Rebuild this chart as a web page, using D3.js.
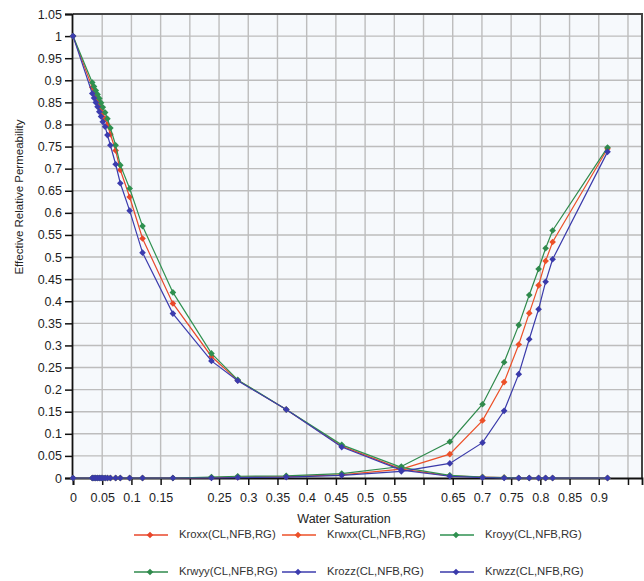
<!DOCTYPE html>
<html>
<head>
<meta charset="utf-8">
<script src="https://cdn.jsdelivr.net/npm/d3@7/dist/d3.min.js"></script>
<style>
  html, body { margin: 0; padding: 0; background: #ffffff; }
  svg { display: block; font-family: "Liberation Sans", Arial, sans-serif; }
</style>
</head>
<body>
<svg id="chart" width="644" height="581"></svg>
<script>
// ---- data ----
const waterSaturation = [0, 0.033, 0.036, 0.039, 0.042, 0.045, 0.048, 0.051, 0.055, 0.059,
  0.064, 0.073, 0.081, 0.097, 0.119, 0.171, 0.237, 0.282, 0.365, 0.460,
  0.562, 0.645, 0.701, 0.738, 0.763, 0.781, 0.797, 0.809, 0.821, 0.915];

const kroxx = [1, 0.884, 0.874, 0.864, 0.855, 0.846, 0.836, 0.826, 0.813, 0.799,
  0.778, 0.741, 0.697, 0.636, 0.542, 0.395, 0.275, 0.221, 0.155, 0.072,
  0.020, 0.005, 0.002, 0.001, 0, 0, 0, 0, 0, 0];
const krwxx = [0, 0, 0, 0, 0, 0, 0, 0, 0, 0,
  0, 0, 0, 0, 0, 0, 0.001, 0.002, 0.003, 0.007,
  0.020, 0.054, 0.130, 0.217, 0.302, 0.373, 0.436, 0.491, 0.534, 0.745];
const kroyy = [1, 0.895, 0.886, 0.877, 0.868, 0.859, 0.849, 0.839, 0.827, 0.813,
  0.792, 0.753, 0.708, 0.655, 0.570, 0.420, 0.282, 0.222, 0.155, 0.075,
  0.024, 0.006, 0.002, 0.001, 0, 0, 0, 0, 0, 0];
const krwyy = [0, 0, 0, 0, 0, 0, 0, 0, 0, 0,
  0, 0, 0, 0, 0, 0, 0.002, 0.004, 0.005, 0.010,
  0.026, 0.082, 0.167, 0.262, 0.346, 0.414, 0.473, 0.520, 0.560, 0.748];
const krozz = [1, 0.870, 0.860, 0.850, 0.840, 0.829, 0.818, 0.806, 0.795, 0.776,
  0.753, 0.710, 0.667, 0.605, 0.510, 0.372, 0.265, 0.220, 0.155, 0.070,
  0.018, 0.004, 0.001, 0, 0, 0, 0, 0, 0, 0];
const krwzz = [0, 0, 0, 0, 0, 0, 0, 0, 0, 0,
  0, 0, 0, 0, 0, 0, 0, 0.001, 0.002, 0.006,
  0.015, 0.033, 0.080, 0.152, 0.235, 0.314, 0.382, 0.444, 0.495, 0.738];

const seriesNames = ["Kroxx(CL,NFB,RG)", "Krwxx(CL,NFB,RG)", "Kroyy(CL,NFB,RG)",
  "Krwyy(CL,NFB,RG)", "Krozz(CL,NFB,RG)", "Krwzz(CL,NFB,RG)"];
const seriesValues = [kroxx, krwxx, kroyy, krwyy, krozz, krwzz];
const seriesColors = ["#e8472b", "#ec5028", "#2f9150", "#2f8a4c", "#3c3cae", "#3a3aaa"];

const xTicks = [0, 0.05, 0.1, 0.15, 0.2, 0.25, 0.3, 0.35, 0.4, 0.45, 0.5,
  0.55, 0.6, 0.65, 0.7, 0.75, 0.8, 0.85, 0.9, 0.95];
const xTickLabels = [0, 0.05, 0.1, 0.15, 0.25, 0.3, 0.35, 0.4, 0.45, 0.5,
  0.55, 0.65, 0.7, 0.75, 0.8, 0.85, 0.9];
const yTicks = [0, 0.05, 0.1, 0.15, 0.2, 0.25, 0.3, 0.35, 0.4, 0.45, 0.5,
  0.55, 0.6, 0.65, 0.7, 0.75, 0.8, 0.85, 0.9, 0.95, 1, 1.05];

const xTitle = "Water Saturation";
const yTitle = "Effective Relative Permeability";

// ---- layout ----
const svg = d3.select("#chart");
const plot = { left: 73, right: 642, top: 14, bottom: 478 };
const x = d3.scaleLinear().domain([0, 0.974]).range([plot.left, plot.right]);
const y = d3.scaleLinear().domain([0, 1.05]).range([plot.bottom, plot.top]);
const fmt = d => String(+d.toFixed(2));

svg.append("rect")
  .attr("x", plot.left).attr("y", plot.top)
  .attr("width", plot.right - plot.left).attr("height", plot.bottom - plot.top)
  .attr("fill", "#f6f9fc");

// grid
const grid = svg.append("g").attr("stroke", "#bdbdbd").attr("stroke-width", 1.4);
grid.selectAll("line.v").data(xTicks.filter(d => d > 0)).join("line")
  .attr("x1", d => x(d)).attr("x2", d => x(d))
  .attr("y1", plot.top).attr("y2", plot.bottom);
grid.selectAll("line.h").data(yTicks.filter(d => d > 0 && d < 1.05)).join("line")
  .attr("x1", plot.left).attr("x2", plot.right)
  .attr("y1", d => y(d)).attr("y2", d => y(d));

// frame (top/right)
svg.append("path")
  .attr("d", `M${plot.left},${plot.top}H${plot.right}V${plot.bottom}`)
  .attr("fill", "none").attr("stroke", "#444").attr("stroke-width", 2);

// axes
const xAxis = svg.append("g").attr("transform", `translate(0,${plot.bottom})`)
  .call(d3.axisBottom(x).tickValues(xTicks).tickSize(7).tickPadding(8)
    .tickFormat(d => xTickLabels.some(v => Math.abs(v - d) < 1e-9) ? fmt(d) : ""));
const yAxis = svg.append("g").attr("transform", `translate(${plot.left - 1},0)`)
  .call(d3.axisLeft(y).tickValues(yTicks).tickSize(7).tickPadding(3).tickFormat(fmt));
[xAxis, yAxis].forEach(g => {
  g.select(".domain").attr("stroke", "#111").attr("stroke-width", 1.8);
  g.selectAll(".tick line").attr("stroke", "#111").attr("stroke-width", 1.5);
  g.selectAll(".tick text").attr("fill", "#1e1e1e").style("font-size", "12.5px")
    .style("font-family", "'Liberation Sans', Arial, sans-serif");
});

// titles
svg.append("text").attr("x", 344).attr("y", 520)
  .attr("text-anchor", "middle").attr("dominant-baseline", "middle")
  .attr("fill", "#222").style("font-size", "12.5px").text(xTitle);
svg.append("text").attr("transform", "translate(20,197) rotate(-90)")
  .attr("text-anchor", "middle").attr("dominant-baseline", "middle")
  .attr("fill", "#222").style("font-size", "11.5px").text(yTitle);

// series
const line = d3.line().x(d => x(d[0])).y(d => y(d[1]));
const marker = d3.symbol().type(d3.symbolDiamond2).size(28);
seriesValues.forEach((vals, i) => {
  const pts = waterSaturation.map((s, j) => [s, vals[j]]);
  const g = svg.append("g");
  g.append("path").datum(pts).attr("d", line)
    .attr("fill", "none").attr("stroke", seriesColors[i]).attr("stroke-width", 1.2);
  g.selectAll("path.m").data(pts).join("path").attr("class", "m")
    .attr("transform", d => `translate(${x(d[0])},${y(d[1])})`)
    .attr("d", marker).attr("fill", seriesColors[i]);
});

// legend
const legendCols = [134, 282, 440];
const legendRows = [535, 572];
seriesNames.forEach((name, i) => {
  const lx = legendCols[i % 3], ly = legendRows[Math.floor(i / 3)];
  const g = svg.append("g").attr("transform", `translate(${lx},${ly})`);
  g.append("line").attr("x1", 0).attr("x2", 34).attr("y1", 0).attr("y2", 0)
    .attr("stroke", seriesColors[i]).attr("stroke-width", 1.4);
  g.append("path").attr("transform", "translate(16,0)").attr("d", marker)
    .attr("fill", seriesColors[i]);
  g.append("text").attr("x", 45).attr("y", 0).attr("dominant-baseline", "middle")
    .attr("fill", "#333").style("font-size", "11.3px").text(name);
});
</script>
</body>
</html>
